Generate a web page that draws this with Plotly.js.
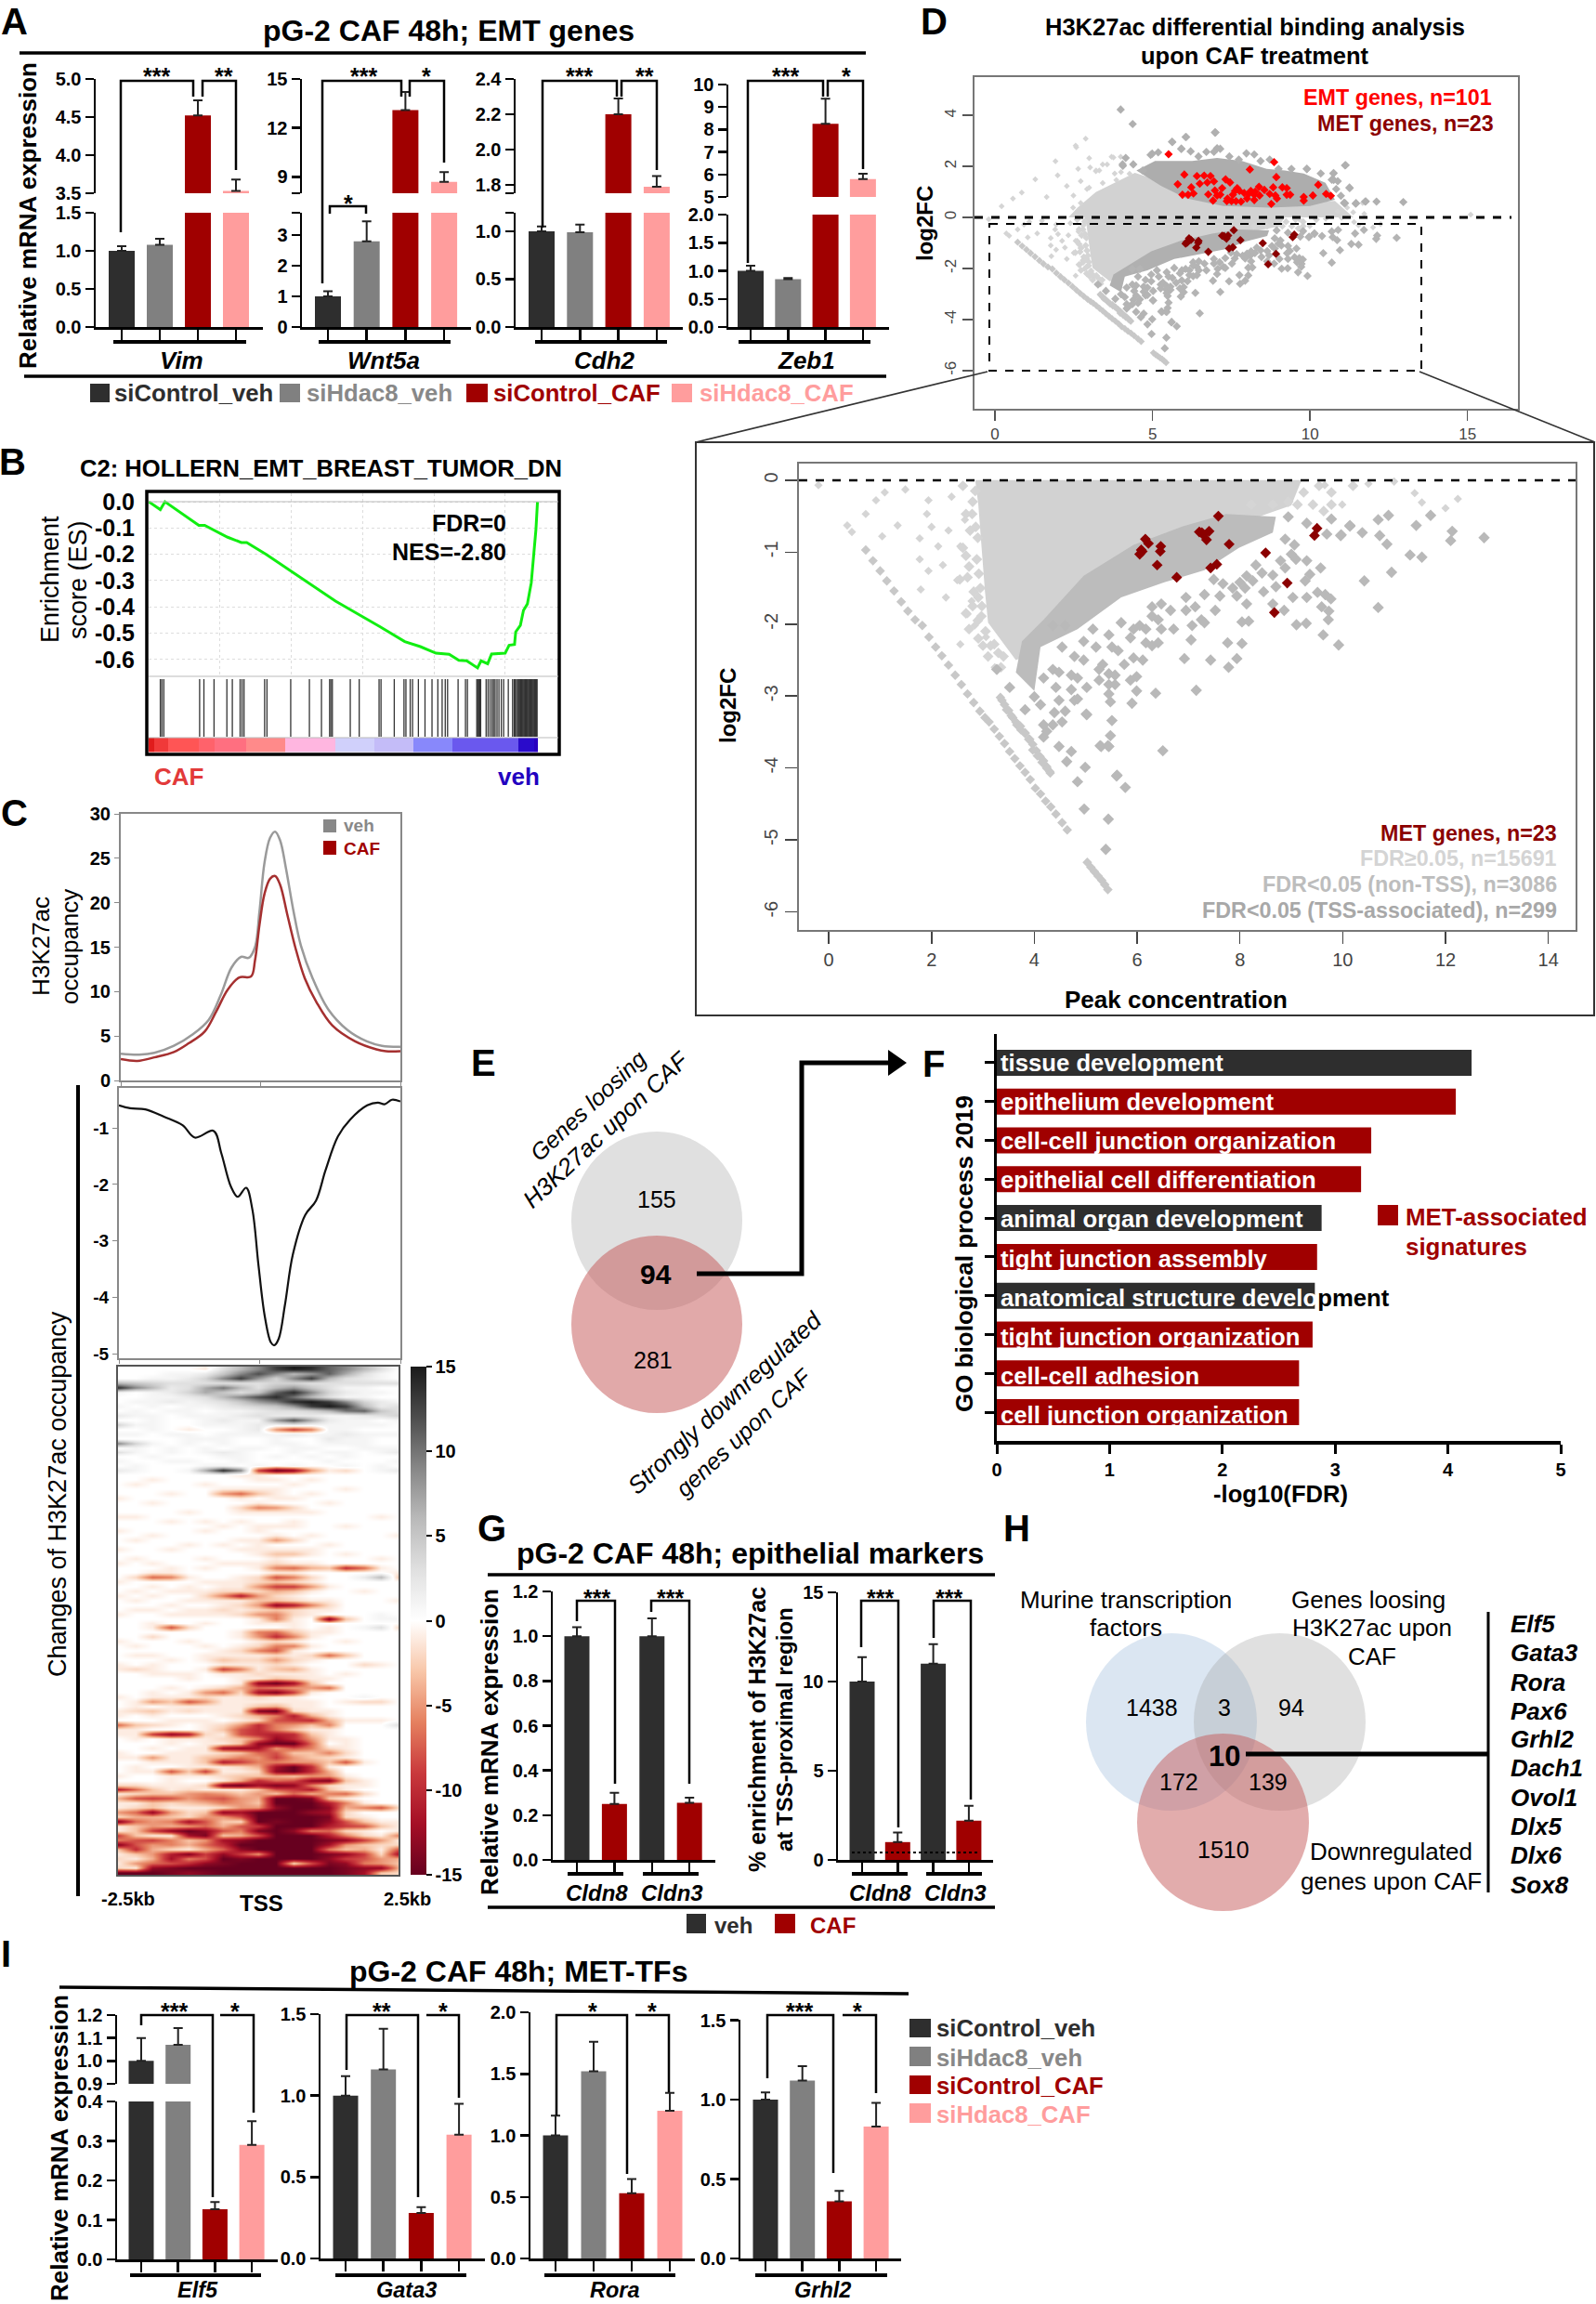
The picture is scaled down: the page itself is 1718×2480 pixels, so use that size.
<!DOCTYPE html>
<html><head><meta charset="utf-8">
<script src="https://cdn.plot.ly/plotly-3.0.1.min.js"></script>
<style>html,body{margin:0;padding:0;background:#fff}</style></head>
<body><div id="chart" style="width:1718px;height:2480px"></div>
<script>
// ---------- shared categories / colours ----------
const groupNames = ['siControl_veh','siHdac8_veh','siControl_CAF','siHdac8_CAF'];
const groupColors = ['#2e2e2e','#808080','#a00000','#ff9d9d'];
const groupPos = [1,2,3,4];
// ---------- panel A ----------
const vimVals=[1.0,1.08,4.52,3.53], vimErr=[0.06,0.08,0.2,0.15];
const wntVals=[1.0,2.8,13.1,8.7], wntErr=[0.17,0.65,1.1,0.6];
const cdhVals=[1.0,0.99,2.2,1.79], cdhErr=[0.05,0.08,0.09,0.06];
const zebVals=[1.0,0.85,8.25,5.8], zebErr=[0.09,0.02,1.12,0.23];
// ---------- panel B ----------
const esRank=[0,3,4.2,12.9,14.4,20.3,23.8,25.2,30.2,36.1,48,59.4,65.8,69.8,73.8,77.2,79.7,81.7,84.5,85.4,87.1,88.1,91.6,92.6,94,94.3,95.5,96.3,97.3,98.3,99.1,99.5,99.9];
const esScore=[0,-.03,0,-.09,-.09,-.135,-.155,-.155,-.2,-.26,-.378,-.475,-.532,-.551,-.576,-.58,-.603,-.605,-.632,-.605,-.616,-.579,-.576,-.546,-.543,-.495,-.47,-.413,-.389,-.308,-.186,-.105,0];
const hitRanks=[3,3.4,3.9,13.1,14.2,16.8,20.1,21.5,23.5,24,24.5,29.8,30.4,36.5,41.3,44.4,46.5,46.8,47.2,51.8,54.1,59.2,59.7,63.1,65.6,66.1,67.2,67.8,69.3,71,72.8,74.3,75.4,76.2,76.8,79.5,81.4,81.9,84.3,84.5,84.7,84.9,85.1,85.3,86.7,87.2,87.7,88.2,88.6,89,89.5,90,90.6,91.2,92.4,93.5,93.9,94.2,94.5,94.8,95,95.2,95.4,95.6,95.8,96,96.2,96.4,96.6,96.8,97,97.2,97.4,97.6,97.8,98,98.2,98.4,98.6,98.8,99,99.2,99.4,99.6,99.8];
const rankEdges=[0,1.5,5,13,17,25,35,48,58,68,78,95,99,100];
const rankLevels=[0,.06,.12,.18,.24,.3,.42,.55,.62,.72,.82,.98,.93];
// ---------- panel C ----------
const vehX=[-2.5,-2.17,-1.9,-1.55,-1.21,-.93,-.72,-.52,-.35,-.21,-.1,-.02,.07,.17,.26,.35,.45,.59,.72,.93,1.21,1.55,1.9,2.17,2.5];
const vehY=[3,2.9,3.1,3.9,5.2,6.8,9.5,12.7,13.9,13.8,15,19,24.5,27.3,28,27,24,19,15.2,11.5,8,5.7,4.4,3.9,3.8];
const cafX=[-2.5,-2.2,-1.9,-1.55,-1.28,-1,-.79,-.59,-.38,-.17,-.1,-.02,.07,.17,.26,.35,.48,.62,.79,1,1.28,1.69,2.07,2.24,2.5];
const cafY=[2.4,2.2,2.6,3.2,4.2,5.5,7.8,10.2,11.6,11.7,13.5,17.5,21,22.7,23,22,18.6,15,11.5,8.8,6.2,4.4,3.5,3.3,3.3];
const diffX=[-2.5,-2.3,-2.03,-1.7,-1.37,-1.15,-.82,-.68,-.51,-.39,-.24,-.13,-.02,.09,.2,.26,.34,.45,.59,.81,1,1.17,1.39,1.61,1.91,2.1,2.22,2.35,2.5];
const diffY=[-.6,-.65,-.67,-.8,-.95,-1.17,-1.05,-1.45,-2.04,-2.22,-2.06,-2.44,-3.44,-4.33,-4.8,-4.85,-4.73,-4.13,-3.24,-2.54,-2.29,-1.75,-1.15,-.85,-.6,-.55,-.58,-.5,-.53];
const heatCols=[-2.5,-2.19,-1.88,-1.56,-1.25,-.94,-.63,-.31,0,.31,.63,.94,1.25,1.56,1.88,2.19,2.5];
const heatRows=[
[0,0,0,0,0,-1,3,6,9,13,15,14,11,9,6,3,0],
[0,0,0,1,1,2,5,9,12,9,6,8,11,7,3,1,0],
[0,0,1,1,2,4,9,13,8,4,9,13,6,3,2,1,0],
[6,5,4,3,3,3,3,3,3,4,4,3,3,3,3,3,3],
[14,9,6,2,3,7,10,6,3,6,8,5,3,1,1,0,0],
[1,0,1,2,4,7,5,3,5,11,14,9,4,2,1,1,0],
[0,0,1,1,2,3,6,9,12,14,10,6,3,1,1,0,0],
[0,1,1,2,1,2,3,5,8,10,14,15,13,9,4,2,1],
[1,0,1,0,1,1,2,3,4,5,8,13,15,13,6,2,3],
[0,1,0,1,1,0,1,1,2,3,3,4,6,10,11,5,3],
[2,1,1,0,1,1,1,2,3,2,2,2,1,1,2,3,4],
[0,0,1,0,0,1,2,1,1,8,12,7,2,1,1,0,1],
[4,1,1,0,0,1,1,1,2,1,2,1,1,1,1,1,0],
[0,0,1,0,-1,0,0,1,2,-5,-9,-6,1,1,0,0,0],
[1,1,0,1,1,0,1,1,1,1,2,1,1,2,1,1,1],
[0,0,0,0,1,1,1,0,0,1,0,0,2,1,1,0,0],
[9,4,1,0,1,0,1,0,0,1,1,0,1,1,1,0,0],
[0,1,0,1,0,1,0,1,1,0,1,1,0,0,1,1,1],
[3,1,0,1,0,1,2,1,0,0,1,0,1,1,0,1,2],
[0,0,1,0,0,0,1,1,0,1,0,1,0,1,0,0,0],
[1,0,0,1,1,0,0,1,0,0,0,0,1,0,0,0,1],
[0,1,0,0,0,1,1,0,1,0,1,0,0,1,0,1,0],
[2,1,0,0,1,7,14,9,-9,-15,-13,-5,-1,-2,0,1,2],
[0,0,0,0,0,0,0,-1,-1,0,0,0,0,0,0,0,0],
[0,0,-1,0,0,0,0,0,-1,-1,0,-1,0,0,0,0,0],
[0,-1,0,0,0,-1,0,0,0,0,-1,0,0,0,0,0,0],
[0,0,0,0,0,0,-1,-1,-1,-1,0,0,0,-1,0,0,0],
[0,0,0,-1,0,0,-5,-7,-3,-1,0,-1,0,0,0,0,0],
[-1,0,0,0,0,0,0,-1,0,-1,-1,0,0,0,0,0,0],
[0,0,-1,0,0,0,0,0,-1,0,0,0,-1,0,0,0,0],
[0,0,0,0,0,0,0,-2,-6,-5,-2,0,0,0,0,0,0],
[0,0,0,0,-1,0,0,-1,-1,-1,-1,-1,0,0,0,0,0],
[-1,-1,0,0,0,0,0,0,0,0,0,0,0,0,0,-1,0],
[0,0,0,-1,0,-1,0,-1,0,0,-1,0,0,0,0,0,0],
[0,0,0,0,0,0,-1,0,-1,-1,-1,0,0,-1,0,0,0],
[-1,0,0,0,0,-1,0,0,-1,0,0,0,0,0,0,0,0],
[0,0,-1,0,0,0,0,0,0,-1,0,-1,0,0,0,0,-1],
[0,-1,0,0,0,0,0,-1,-1,-5,-2,0,0,0,0,0,0],
[0,0,0,0,-1,0,-1,0,-1,0,0,0,-1,0,0,0,0],
[-1,0,0,-1,0,0,0,-1,-1,-1,-1,-1,0,0,0,0,0],
[0,0,0,0,0,0,0,0,-1,-3,-3,-1,0,-1,0,0,0],
[0,-1,0,0,0,-1,0,0,0,-1,0,0,0,0,0,-1,0],
[-1,0,-1,0,0,0,-1,-1,-1,-2,-1,-1,0,0,0,0,0],
[0,0,0,-1,0,-1,0,0,-1,-6,-7,-4,-3,-10,-7,-1,0],
[0,0,-1,-1,0,0,0,0,0,-1,-1,0,0,0,0,0,-1],
[0,-2,-7,-6,-1,0,0,-1,-2,-8,-6,-2,0,0,2,6,-3],
[-1,0,0,0,0,-1,-1,-1,-2,-3,-2,-1,0,0,0,0,0],
[0,0,-1,0,-1,0,-1,-1,-5,-9,-9,-5,-1,0,0,0,0],
[0,-1,0,-1,-1,-1,-2,-2,-2,-4,-3,-1,0,0,-1,0,0],
[-1,0,-1,0,0,-2,-6,-11,-5,-2,-1,0,0,0,0,0,0],
[0,-1,0,0,-1,-1,-1,-1,-3,-3,-2,-1,-1,0,0,0,-1],
[0,0,0,-1,0,0,-1,-2,-5,-13,-11,-6,-2,0,0,0,0],
[0,-1,-1,0,-1,-1,-2,-1,-2,-3,-2,-1,-1,0,0,0,0],
[-1,0,0,-1,-1,-1,-1,-2,-5,-6,-2,-1,0,0,0,1,0],
[0,0,0,0,0,0,0,0,-1,-6,-1,0,-14,-3,0,1,1],
[0,0,-1,0,0,-1,0,0,-1,-1,-1,0,0,0,0,0,0],
[0,0,-1,-8,-2,0,0,0,0,0,-1,0,-1,0,1,3,-2],
[0,0,0,0,0,0,0,-1,-6,-7,-3,-1,-1,0,0,0,0],
[0,0,-2,0,0,0,0,-1,-5,-10,-6,-1,0,0,0,0,0],
[-1,0,0,0,-1,0,0,0,-1,-2,-1,0,0,-1,0,0,0],
[0,-1,0,0,0,-1,0,-1,-2,-6,-6,-1,0,0,0,0,0],
[0,0,0,0,0,0,-1,-2,-6,-8,-1,0,0,0,0,0,0],
[0,-1,-1,0,0,-1,-1,-1,-1,-2,-1,-2,-7,-3,0,0,0],
[0,0,0,-1,0,-1,-3,-2,-2,-5,-2,-1,0,0,0,0,0],
[-1,0,-1,0,0,0,-1,-1,-1,-2,-1,0,0,0,-2,-1,0],
[-1,-2,-1,0,0,-1,-9,-6,-1,-3,-4,-1,0,0,0,0,0],
[0,0,-1,-1,-1,0,-1,-1,-2,-1,-1,-1,0,-1,0,0,0],
[0,0,0,0,-1,0,0,-1,-1,-3,-2,-1,-1,0,0,0,0],
[0,0,0,0,0,0,0,-1,-13,-15,-12,-3,0,0,0,0,0],
[0,0,0,-1,0,-1,-2,-4,-7,-6,-5,-5,-7,0,0,0,0],
[0,0,-1,0,-1,-5,-7,-2,-12,-14,-9,-1,0,0,0,0,0],
[-1,0,-1,-1,-1,-2,-1,-1,-2,-1,-1,0,0,0,1,0,0],
[0,-1,-5,-3,-8,-5,-1,-1,-1,-1,-1,-1,0,-1,-2,-2,0],
[0,-1,0,-1,-1,-1,-1,-1,-3,-4,-1,-1,0,0,0,0,0],
[-1,-2,-3,-1,-2,-1,-1,-1,-14,-15,-2,-1,-1,0,0,0,0],
[-1,0,-1,0,0,0,-1,-2,-4,-6,-11,-4,-1,0,0,0,0],
[0,0,0,-1,-1,-1,0,-1,-2,-8,-9,-10,-4,-1,-1,-1,0],
[-7,-3,-2,-1,0,-1,-2,-5,-10,-6,-5,-3,-6,0,0,0,3],
[-1,-1,0,0,0,-1,-3,-8,-10,-6,-3,-1,-1,0,0,0,0],
[-1,-1,-9,-13,-11,-2,-1,-8,-10,-11,-10,-3,-1,0,0,0,0],
[0,-1,0,-1,-1,-1,-2,-3,-6,-13,-10,-5,-1,-1,0,0,0],
[0,0,0,-1,0,-1,-1,-3,-13,-15,-15,-7,0,-1,0,0,0],
[0,0,-1,0,-1,-1,-12,-13,-12,-5,-8,-6,-2,-1,0,0,0],
[-1,0,0,-1,-1,-1,-2,-3,-7,-8,-3,-3,-6,-2,0,0,0],
[-1,-1,-5,-1,-1,-3,-4,-6,-5,-9,-5,-3,-2,-1,0,0,0],
[0,0,-1,-1,-1,-3,-11,-9,-6,-6,-5,-5,-3,-8,-1,0,0],
[0,-1,0,0,-1,-1,-1,-2,-4,-12,-15,-10,-1,0,0,0,0],
[0,-1,-1,-8,-3,-9,-1,-1,-2,-13,-15,-10,-4,0,0,0,0],
[-1,0,0,-1,-1,-1,-2,-3,-3,-4,-3,-5,-5,-1,0,0,0],
[0,0,0,-1,0,0,-1,-4,-10,-7,-8,-13,-14,-3,-1,0,0],
[-2,-2,-1,-1,-1,-2,-14,-15,-12,-14,-13,-6,-2,-1,-1,0,0],
[-11,-7,-3,-1,-2,-1,-1,-1,-3,-8,-9,-11,-3,-1,0,0,0],
[-1,-2,-3,-3,-5,-6,-5,-3,-5,-3,-7,-4,-6,-7,-2,0,0],
[-4,-8,-9,-8,-5,-7,-8,-5,-4,-15,-15,-14,-3,-1,0,0,0],
[-1,-1,-3,-2,-3,-4,-6,-5,-3,-15,-15,-15,-11,-6,-1,0,0],
[-1,-2,-3,-1,-1,-1,-2,-5,-5,-13,-15,-15,-13,-4,-6,-8,-2],
[-5,-7,-13,-5,-2,-3,-13,-12,-15,-15,-15,-13,-12,-2,0,0,0],
[-2,-4,-4,-3,-2,-5,-5,-8,-15,-15,-15,-15,-14,-2,-1,0,0],
[-14,-7,-5,-6,-12,-8,-3,-2,-15,-14,-15,-15,-13,-8,-3,-1,-1],
[-1,-3,-5,-4,-5,-7,-4,-8,-9,-15,-15,-15,-11,-9,-8,-3,-1],
[-1,-3,-9,-13,-15,-13,-8,-6,-14,-15,-13,-6,-7,-2,-1,0,-1],
[-9,-3,-1,-1,-12,-14,-3,-4,-8,-15,-15,-15,-11,-6,-2,-1,-6],
[-6,-8,-9,-6,-3,-5,-12,-13,-15,-15,-15,-15,-14,-13,-9,-5,-1],
[-14,-8,-5,-6,-4,-7,-10,-15,-15,-15,-15,-15,-12,-5,-3,-2,-2],
[-3,-10,-4,-2,-1,-4,-7,-13,-15,-15,-15,-15,-6,-3,-4,-1,-8],
[-1,-3,-5,-11,-14,-9,-13,-9,-5,-15,-15,-15,-14,-13,-9,-2,-12],
[-2,-1,-4,-12,-6,-8,-15,-14,-15,-15,-15,-15,-13,-9,-8,-5,-4],
[-1,-5,-7,-8,-10,-13,-14,-15,-15,-15,-2,-8,-14,-13,-6,-5,-3],
[-2,-1,-13,-14,-15,-15,-15,-15,-15,-15,-15,-15,-15,-14,-13,-13,-4],
[-15,-15,-15,-14,-13,-14,-15,-15,-15,-15,-15,-15,-15,-14,-12,-3,-2]];
const heatScale=[[0,'#67001f'],[.1,'#a50f26'],[.2,'#c9393c'],[.3,'#e5805f'],[.4,'#f8c6a8'],[.5,'#ffffff'],[.6,'#e0e0e0'],[.7,'#bababa'],[.8,'#878787'],[.9,'#4d4d4d'],[1,'#1a1a1a']];
// ---------- panel D: envelopes of the dense clouds ----------
const lightUpX=[2.33,2.62,3.2,3.8,4.44,5.18,6.07,7.25,8.72,10,10.79,11.38], lightUpY=[0,.38,.99,1.36,1.75,1.45,.95,.65,.55,.6,.65,0];
const midUpX=[4.49,5.28,6.07,7.25,8.72,10,10.79,10.49,9.8,9.2,8.62,7.84,7.05,6.26,5.67,5.08], midUpY=[1.84,1.23,.75,.45,.38,.45,.69,1.36,1.72,1.84,1.9,2.21,2.33,2.21,2.21,2.21];
const lightLoX=[9.2,9,8,6.8,5.8,5,4.4,4,3.64,3.1,3.04,2.98,2.91,2.85], lightLoY=[0,-.35,-.6,-.85,-1.25,-1.7,-2.1,-2.4,-2.5,-1.98,-1.55,-.99,-.34,0];
const midLoX=[8.7,7.73,6.89,5.93,4.96,4.18,3.76,3.64,4,4.12,4.84,5.69,6.53,7.31,7.98,8.64], midLoY=[-.51,-.47,-.64,-.9,-1.33,-1.94,-2.24,-2.67,-2.93,-2.32,-2.07,-1.63,-1.42,-1.25,-.94,-.73];
const sparseLoX=[-.2,.36,.45,.72,.92,1.09,1.49,1.34,1.04,1.77,1.91,1.94,2.13,2,2.39,2.33,1.77,1.94,2.22,2.5,1.79,2.28,2.56,2.65,2.78,2.7,2.84,3.06,2.56,3.23,9.65,9.99,10.5,11,11.4,11.54,12.24,12];
const sparseLoY=[-.07,-.63,-.72,-.47,-.28,-.17,-.13,-.63,-.78,-.81,-.47,-.28,-.92,-.65,-.23,-.7,-1.1,-1.26,-1.18,-1.39,-1.52,-1.63,-.92,-.55,-1.68,-1.86,-2.02,-2.18,-2.28,-2.6,-.07,-.34,-.05,-.02,-.18,-.31,-.26,-.39];
const fringeLoX=[2.79,2.61,2.73,2.91,2.73,2.91,3.22,3.4,2.97,2.67,2.82,2.67,2.55,2.67,2.61,9.54,9.78,9.24,8.94,8.64,8.22,9.12,9.42,9.78,9.63,10.2,2.85,2.8,2.86,2.9,2.88,2.92,2.95,2.98,3.05,3.15,3.3,2.75,2.7,2.8,2.9,3,3.1,3.35];
const fringeLoY=[-.47,-.94,-1.2,-1.63,-2.07,-2.2,-2.28,-2.45,-1.89,-1.85,-1.55,-1.05,-1.38,-.47,-.08,-.08,-.17,-.17,-.3,-.34,-.34,-.34,-.34,-.34,-.43,-.08,-.15,-.3,-.65,-.8,-1.1,-1.3,-1.5,-1.75,-2.1,-2.3,-2.4,-.7,-1.35,-1.75,-1.95,-2.3,-2.45,-2.6];
const sigLoX=[12.13,12.1,12.75,11.71,11.43,10.89,10.69,10.38,10.72,10.86,11.31,11.54,10.95,10.42,10.69,10.14,9.97,5.01,5.48,5.28,5.43,5.61,5.77,4.84,4.97,5.44,5.39,9.78,9.3,8.94,9.06,8.88,9.69,9.96,10.14,8.79,9,9.09,9.3,9.36,9.57,9.27,8.88,8.64,8.43,8.31,8.25,8.13,8.46,8.7,8.1,7.94,8.13,8,7.86,7.61,7.67,7.49,8.64,8.86,9.03,9.3,9.51,9.66,9.77,9.59,9.73,9.72,9.29,9.1,9.62,9.92,8.04,8.17,7.76,8.04,7.94,7.78,7.43,6.92,7.15,6.36,7.07,7.05,7.25,7.31,7.52,7.13,6.95,6.65,6.47,6.29,7.31,6.95,6.41,6.71,6.47,6.05,6.17,5.87,5.51,5.63,6.17,6.41,6.29,6.11,5.93,5.75,5.33,5.26,5.45,5.57,5.99,5.87,5.26,5.45,5.57,5.02,5.99,5.45,5.48,5.9,4.78,4.48,4.6,4.39,5.02,5.51,4.54,4.36,4.18,4.24,4.18,4.48,4.72,5.3,5.45,6.5,4.63,4.99,5.6,4.84,4.72,4.96,4.78,4.54,4.36,4.48,4.18,4.42,4.72,4.84,4,4.12,3.82,3.52,3.27,5.2,5.45,5.69,5.93,5.14,4.96,4.6,4.36,6.29];
const sigLoY=[-.71,-.84,-.8,-.49,-.63,-.49,-.55,-.73,-.77,-.89,-1.04,-1.07,-1.28,-1.4,-1.77,-.63,-.76,-3.25,-3.55,-3.69,-3.69,-4.1,-4.27,-4.19,-4.57,-4.71,-5.13,-.54,-.6,-.51,-.9,-.82,-.75,-.77,-.64,-1.12,-1.03,-1.1,-1.12,-1.31,-1.22,-1.4,-1.22,-1.32,-1.29,-1.18,-1.4,-1.33,-1.55,-1.48,-1.5,-1.61,-1.72,-1.42,-1.5,-1.61,-1.44,-1.38,-1.72,-1.81,-1.63,-1.63,-1.56,-1.59,-1.65,-1.76,-1.82,-1.94,-1.99,-2.01,-2.15,-2.29,-1.97,-1.96,-2.26,-2.27,-2.48,-2.6,-2.5,-2.48,-2.92,-2.96,-2.02,-2.22,-1.94,-1.98,-1.81,-1.76,-1.81,-1.81,-1.72,-1.76,-1.59,-1.63,-1.94,-2.07,-2.07,-2.02,-2.07,-2.19,-2.32,-2.37,-2.26,-2.26,-2.3,-2.5,-2.47,-2.56,-2.56,-2.63,-2.69,-2.71,-2.73,-2.78,-2.78,-2.84,-2.84,-2.88,-2.93,-2.97,-3.08,-3.1,-3.06,-3.06,-3.21,-3.23,-3.26,-3.34,-3.36,-3.4,-3.4,-3.49,-3.57,-3.7,-3.77,-3.7,-3.7,-3.76,-3.91,-3.99,-4.11,-2.75,-2.71,-2.5,-2.45,-2.32,-2.63,-2.67,-2.75,-2.88,-2.91,-3.04,-3.01,-3.12,-3.19,-2.88,-2.63,-2.32,-2.15,-1.98,-2.07,-2.07,-2.24,-2.02,-2.02,-1.89];
const diagX=[.72,.86,1,1.13,1.27,1.41,1.54,1.68,1.82,1.95,2.08,2.2,2.33,2.46,2.58,2.7,2.82,2.94,3.04,3.12,3.22,3.32,3.42,3.52,3.62,3.72,3.82,3.92,4.02,4.12,4.22,4.32,4.42,4.54,4.64,3.34,3.42,3.5,3.58,3.66,3.74,3.82,3.91,3.97,4.04,4.11,4.18,4.24,4.3,3.37,3.46,3.55,3.64,3.73,3.82,3.89,3.97,4.06,4.15,4.24,4.31,5.03,5.1,5.17,5.24,5.31,5.37,5.43];
const diagY=[-.97,-1.12,-1.26,-1.4,-1.54,-1.69,-1.82,-1.94,-2.02,-2.18,-2.32,-2.44,-2.57,-2.71,-2.84,-2.97,-3.09,-3.21,-3.3,-3.36,-3.46,-3.56,-3.66,-3.77,-3.87,-3.97,-4.06,-4.16,-4.28,-4.36,-4.46,-4.54,-4.64,-4.76,-4.86,-3.02,-3.12,-3.2,-3.3,-3.4,-3.47,-3.52,-3.6,-3.67,-3.76,-3.84,-3.9,-3.98,-4.05,-3.06,-3.19,-3.27,-3.36,-3.42,-3.51,-3.6,-3.75,-3.83,-3.92,-4,-4.07,-5.31,-5.38,-5.44,-5.5,-5.56,-5.62,-5.69];
const sparseUpX=[.21,.57,.85,1.28,1.64,1.92,1.99,2.28,2.56,2.88,2.64,3.2,2.99,3.42,3.7,3.99,2.49,2.99,3.42,3.85,4.27,15.1,3.76,3.56,3.31,3.02,2.72,2.58,3.21,2.92,2.72,2.48,3.8,4,11.67,11.72,11.18,10.88,11.37];
const sparseUpY=[.44,.74,.98,1.49,.8,2.2,1.65,1.23,2.81,3.09,1.9,1.81,2.32,2.08,2.38,2.38,.86,1.17,1.35,1.47,1.71,.11,2.35,2.08,1.84,1.96,1.42,2.75,1.84,1.11,.57,.38,1.72,1.78,.57,.14,.38,.24,.2];
const sigUpX=[3.99,4.37,6.98,6.05,5.63,5.91,4.06,4.99,7.05,11.11,9.9,10.75,11.25,12.96,12.11,11.75,11.46,11.11,10.75,10.83,4.94,5.18,5.62,5.92,6.21,6.46,6.71,6.95,7.15,7.44,7.74,7.98,8.23,8.43,8.72,9,9.41,9.9,10.34,10.74,10.69,10.88,11.13,11.26,10.98,11.08,11.45,11.77,4.15,4.39,4.05,4.69,6.07,7];
const sigUpY=[4.23,3.66,3.33,3.15,2.95,2.69,2.02,2.5,2.71,2.04,1.9,1.74,1.17,.6,.62,.62,.56,.56,1.47,1.11,2.45,2.55,2.97,2.69,2.59,2.39,2.57,2.57,2.69,2.39,2.27,2.51,2.47,2.21,2.27,1.9,1.9,1.9,1.72,1.72,1.48,1.42,2.05,1.15,.85,.57,.54,.63,2.33,2.08,2.08,1.84,3.15,3.33];
const emtX=[5.51,8.86,8.09,6.01,6.41,6.64,6.84,8.93,7.32,7.46,5.8,10.26,6.5,6.74,6.95,6.23,7.21,7.69,8.38,8.83,9.12,9.26,6.98,7.62,8.12,8.55,8.26,7.15,5.95,6.13,6.3,6.77,7.55,7.91,8.05,8.23,8.72,8.9,9.26,9.37,9.8,10.09,10.51,10.66,7.38,8,8.95,9.8,6.92,7.36,7.51,7.65,7.81,8.23,8.77,7.76,7.05,8.4];
const emtY=[2.48,2.17,1.88,1.68,1.62,1.64,1.62,1.58,1.49,1.37,1.3,1.28,1.32,1.37,1.41,1.18,1.15,1.15,1.2,1.18,1.18,1.15,1.06,1.04,1.04,1.08,1.01,.89,.89,.89,.94,.9,.89,.96,.92,.89,.92,.86,.89,.89,.8,.86,.92,.85,.74,.74,.74,.66,.66,.64,.64,.64,.62,.68,.53,1.04,.86,.86];
const metX=[7.58,9.5,9.45,7.21,7.29,7.4,7.35,6.16,6.22,6.46,6.45,6.08,6.05,7.79,8.5,6.39,7.55,7.43,6.77,8.92,8.67,7.26,6.1];
const metY=[-.5,-.67,-.77,-.72,-.76,-.71,-.83,-.82,-.88,-.92,-.99,-.97,-1.03,-.89,-1.01,-1.18,-1.17,-1.22,-1.35,-1.43,-1.84,-.73,-.99];
// ---------- panel F ----------
const goTerms=['tissue development','epithelium development','cell-cell junction organization','epithelial cell differentiation','animal organ development','tight junction assembly','anatomical structure development','tight junction organization','cell-cell adhesion','cell junction organization'];
const goVals=[4.21,4.07,3.32,3.23,2.88,2.84,2.82,2.8,2.68,2.68];
const goColors=['#2e2e2e','#a00000','#a00000','#a00000','#2e2e2e','#a00000','#2e2e2e','#a00000','#a00000','#a00000'];
// ---------- panel G ----------
const gColors=['#2e2e2e','#a00000','#2e2e2e','#a00000'];
const mrnaVals=[1,.25,1,.255], mrnaErr=[.04,.05,.08,.023];
const chipVals=[10,1,11,2.2], chipErr=[1.37,.53,1.09,.84];
// ---------- panel H ----------
const tfGenes=['Elf5','Gata3','Rora','Pax6','Grhl2','Dach1','Ovol1','Dlx5','Dlx6','Sox8'];
// ---------- panel I ----------
const elfVals=[1,1.07,.127,.29], elfErr=[.1,.073,.018,.06];
const gatVals=[1,1.16,.28,.76], gatErr=[.12,.25,.035,.19];
const rorVals=[1,1.52,.53,1.2], rorErr=[.16,.24,.115,.145];
const grhVals=[1,1.12,.36,.83], grhErr=[.045,.09,.065,.15];

// ---------- scaffolding ----------
const W=1718,H=2480,FONT='Liberation Sans';
const layout={width:W,height:H,margin:{l:0,r:0,t:0,b:0},paper_bgcolor:'#fff',plot_bgcolor:'rgba(0,0,0,0)',showlegend:false,shapes:[],annotations:[],font:{family:FONT,color:'#000'}};
const data=[];let nAx=0;
const X=p=>p/W,Y=p=>1-p/H;
function ax(l,r,t,b,xo,yo){nAx++;const s=nAx===1?'':nAx;
 layout['xaxis'+s]=Object.assign({domain:[X(l),X(r)],anchor:'y'+s,showgrid:false,zeroline:false,fixedrange:true,showticklabels:false,ticks:''},xo);
 layout['yaxis'+s]=Object.assign({domain:[Y(b),Y(t)],anchor:'x'+s,showgrid:false,zeroline:false,fixedrange:true,showticklabels:false,ticks:''},yo);
 return {xaxis:'x'+s,yaxis:'y'+s};}
function txt(t,x,y,o={}){layout.annotations.push({text:t,x:X(x),y:Y(y),xref:'paper',yref:'paper',showarrow:false,xanchor:o.a||'center',yanchor:'middle',textangle:o.rot||0,borderpad:0,
 font:{family:o.fam||FONT,size:o.s||22,color:o.c||'#000',weight:o.b?'bold':'normal',style:o.i?'italic':'normal'}});}
function poly(pts,w,c,o={}){const d=pts.map((p,i)=>(i?'L':'M')+X(p[0])+','+Y(p[1])).join(' ')+(o.close?' Z':'');
 layout.shapes.push({type:'path',path:d,xref:'paper',yref:'paper',line:{color:c,width:w,dash:o.dash||'solid'},fillcolor:o.fill||'rgba(0,0,0,0)'});}
function line(x1,y1,x2,y2,w,c,dash){poly([[x1,y1],[x2,y2]],w,c||'#000',{dash});}
function rect(x1,y1,x2,y2,c,lc,lw){layout.shapes.push({type:'rect',xref:'paper',yref:'paper',x0:X(x1),x1:X(x2),y0:Y(y1),y1:Y(y2),fillcolor:c,line:{color:lc||c,width:lw===undefined?0:lw}});}
function ell(x1,y1,x2,y2,c){layout.shapes.push({type:'circle',xref:'paper',yref:'paper',x0:X(x1),x1:X(x2),y0:Y(y1),y1:Y(y2),fillcolor:c,line:{width:0}});}
const tf=(s=19)=>({family:FONT,size:s,color:'#000',weight:'bold'});

function barPanel(c){
 const rng=[1+(c.yx-c.c1)/c.step,1+(c.right-c.c1)/c.step],bw=(c.bw||28)/c.step,pos=c.pos||groupPos;
 c.segs.forEach((g,i)=>{
  const a=ax(c.yx,c.right,g.t,g.b,
   Object.assign({range:rng},i===0?{showline:true,linewidth:3,linecolor:'#000',ticks:'outside',ticklen:11,tickwidth:2.5,tickcolor:'#000',tickvals:pos}:{}),
   {range:g.range,showline:true,linewidth:2.5,linecolor:'#000',ticks:'outside',ticklen:9,tickwidth:2.5,tickcolor:'#000',tickvals:g.tv,ticktext:g.tt,showticklabels:true,tickfont:tf(c.fs||20)});
  data.push(Object.assign({type:'bar',x:pos,y:c.vals,width:bw,marker:{color:c.colors||groupColors,line:{width:0}},
   error_y:{type:'data',symmetric:false,array:c.errs,arrayminus:[0,0,0,0],color:'#222',thickness:2,width:5}},a));
 });}
function brk(x1,x2,y,yl,yr){poly([[x1,yl],[x1,y],[x2,y],[x2,yr]],2.5,'#000');}
function stars(s,x,y){txt(s,x,y+7,{s:25,b:true});}

// ---------- panel letters ----------
[['A',15,23],['B',14,497],['C',15,875],['D',1006,23],['E',520,1144],['F',1005,1145],['G',529,1645],['H',1094,1645],['I',6,2103]].forEach(l=>txt(l[0],l[1],l[2],{s:40,b:true}));

// ========== A ==========
txt('pG-2 CAF 48h; EMT genes',483,33,{s:32,b:true});
line(21,57,932,57,3.5);line(26,405,954,405,3.5);
txt('Relative mRNA expression',30,232,{s:26,b:true,rot:-90});
barPanel({yx:103,right:283,c1:131,step:41,vals:vimVals,errs:vimErr,segs:[
 {t:229,b:352,range:[0,1.5],tv:[0,.5,1,1.5],tt:['0.0','0.5','1.0','1.5']},
 {t:85,b:208,range:[3.5,5],tv:[3.5,4,4.5,5],tt:['3.5','4.0','4.5','5.0']}]});
barPanel({yx:325,right:507,c1:353,step:41.7,vals:wntVals,errs:wntErr,segs:[
 {t:229,b:352,range:[0,3.73],tv:[0,1,2,3,3.73],tt:['0','1','2','3','']},
 {t:85,b:208,range:[8,15],tv:[8,9,12,15],tt:['','9','12','15']}]});
barPanel({yx:555,right:735,c1:583,step:41.3,vals:cdhVals,errs:cdhErr,segs:[
 {t:229,b:352,range:[0,1.194],tv:[0,.5,1,1.194],tt:['0.0','0.5','1.0','']},
 {t:85,b:208,range:[1.753,2.4],tv:[1.753,1.8,2,2.2,2.4],tt:['','1.8','2.0','2.2','2.4']}]});
barPanel({yx:784,right:957,c1:808,step:40.3,vals:zebVals,errs:zebErr,segs:[
 {t:231,b:352,range:[0,2],tv:[0,.5,1,1.5,2],tt:['0.0','0.5','1.0','1.5','2.0']},
 {t:91,b:212,range:[5,10],tv:[5,6,7,8,9,10],tt:['5','6','7','8','9','10']}]});
[[122,265,'Vim',195],[343,485,'Wnt5a',413],[576,718,'Cdh2',651],[795,937,'Zeb1',868]].forEach(g=>{line(g[0],368,g[1],368,4);txt(g[2],g[3],388,{s:26,b:true,i:true});});
brk(130,208,87,250,104);brk(218,254,87,104,183);stars('***',168,75);stars('**',241,75);
brk(347,432,87,305,104);brk(441,478,87,104,175);stars('***',391,75);stars('*',459,75);
brk(355,394,222,230,230);stars('*',375,212);
brk(584,664,87,245,104);brk(669,707,87,104,183);stars('***',623,75);stars('**',694,75);
brk(805,886,87,283,104);brk(891,929,87,104,182);stars('***',845,75);stars('*',911,75);
[[97,118,122],[301,323,329],[502,525,530],[723,745,752]].forEach((l,i)=>{rect(l[0],413,l[1],433,groupColors[i]);txt(groupNames[i],l[2],423,{s:25.7,b:true,a:'left',c:i===0?'#2e2e2e':(i===1?'#888':groupColors[i])});});

// ========== B ==========
txt('C2: HOLLERN_EMT_BREAST_TUMOR_DN',345,504,{s:25.6,b:true});
const bx=[0,105.25];
let a=ax(160,601,531,728,{range:bx,tickvals:[18.3,36.6,54.9,73.3,91.6],showgrid:true,gridcolor:'#ddd',griddash:'dot',gridwidth:1},
 {range:[-.664,.032],tickvals:[0,-.1,-.2,-.3,-.4,-.5,-.6],ticktext:['0.0','-0.1','-0.2','-0.3','-0.4','-0.5','-0.6'],showticklabels:true,showgrid:true,gridcolor:'#ddd',griddash:'dot',gridwidth:1,tickfont:tf(25),ticks:'outside',ticklen:9,tickcolor:'#fff',tickwidth:1});
data.push(Object.assign({type:'scatter',mode:'lines',x:esRank,y:esScore,line:{color:'#11ee11',width:3}},a));
a=ax(160,601,731,793,{range:bx},{range:[0,1]});
const hx=[],hy=[];hitRanks.forEach(r=>{hx.push(r,r,null);hy.push(0,1,null);});
data.push(Object.assign({type:'scatter',mode:'lines',x:hx,y:hy,line:{color:'#333',width:1.3}},a));
a=ax(160,601,794,809.5,{range:bx},{range:[0,1]});
data.push(Object.assign({type:'heatmap',x:rankEdges,y:[0,1],z:[rankLevels],zmin:0,zmax:1,showscale:false,
 colorscale:[[0,'#e01c1c'],[.12,'#ff5555'],[.24,'#ff6f80'],[.3,'#ff8a8a'],[.42,'#ffb6e0'],[.55,'#d0d0fb'],[.62,'#c4bcf8'],[.72,'#8888fb'],[.82,'#6a58ee'],[.93,'#2a00c0'],[1,'#2a10d0']]},a));
rect(158,529,602,812,'rgba(0,0,0,0)','#000',3.5);
line(160,540,601,540,1,'#bbb');line(160,728,601,728,1,'#bbb');line(160,794,601,794,1,'#bbb');
txt('Enrichment',54,624,{s:27,rot:-90});txt('score (ES)',84,624,{s:27,rot:-90});
txt('FDR=0',546,563,{s:25,b:true,a:'right'});txt('NES=-2.80',546,594,{s:25,b:true,a:'right'});
txt('CAF',192,836,{s:26,b:true,c:'#e23a3a'});txt('veh',558,836,{s:26,b:true,c:'#2200c0'});

// ========== C ==========
const frame={showline:true,mirror:true,linecolor:'#888',linewidth:2};
a=ax(130,431,876,1163,Object.assign({range:[-2.5,2.5],tickvals:[-2.5,0,2.5],ticks:'outside',ticklen:5,tickcolor:'#888'},frame),
 Object.assign({range:[0,30],tickvals:[0,5,10,15,20,25,30],showticklabels:true,tickfont:tf(20),ticks:'outside',ticklen:5,tickcolor:'#888'},frame));
data.push(Object.assign({type:'scatter',mode:'lines',x:vehX,y:vehY,line:{color:'#9a9a9a',width:2.5,shape:'spline'}},a));
data.push(Object.assign({type:'scatter',mode:'lines',x:cafX,y:cafY,line:{color:'#a53030',width:2.5,shape:'spline'}},a));
rect(348,882,362,896,'#888');txt('veh',369,889,{s:19,b:true,a:'left',c:'#888'});
rect(348,905,362,920,'#a00000');txt('CAF',369,913,{s:19,b:true,a:'left',c:'#a00000'});
txt('H3K27ac',44,1019,{s:26,rot:-90});txt('occupancy',75,1019,{s:26,rot:-90});
a=ax(128,431,1171,1462,Object.assign({range:[-2.5,2.5],tickvals:[-2.5,0,2.5],ticks:'outside',ticklen:4,tickcolor:'#888'},frame),
 Object.assign({range:[-5.08,-.29],tickvals:[-1,-2,-3,-4,-5],ticktext:['-1','-2','-3','-4','-5'],showticklabels:true,tickfont:tf(19),ticks:'outside',ticklen:5,tickcolor:'#888'},frame));
data.push(Object.assign({type:'scatter',mode:'lines',x:diffX,y:diffY,line:{color:'#111',width:2.2,shape:'spline'}},a));
a=ax(127,429,1471,2018,{range:[-2.5,2.5],showline:true,mirror:true,linecolor:'#555',linewidth:2},{range:[heatRows.length-.5,-.5],showline:true,mirror:true,linecolor:'#555',linewidth:2});
data.push(Object.assign({type:'heatmap',x:heatCols,z:heatRows,zmin:-15,zmax:15,zsmooth:'best',colorscale:heatScale,
 colorbar:{x:X(442),xanchor:'left',y:Y(2018),yanchor:'bottom',len:(2018-1471)/H,lenmode:'fraction',thickness:17,thicknessmode:'pixels',xpad:0,ypad:0,outlinewidth:0,ticks:'outside',ticklen:6,tickwidth:2,tickcolor:'#000',tickvals:[15,10,5,0,-5,-10,-15],ticktext:['15','10','5','0','-5','-10','-15'],tickfont:tf(20)}},a));
txt('-2.5kb',138,2044,{s:20,b:true});txt('TSS',281,2048,{s:24,b:true});txt('2.5kb',438,2044,{s:20,b:true});
line(84,1168,84,2041,4);
txt('Changes of H3K27ac occupancy',62,1608,{s:27,rot:-90});

// ========== D ==========
txt('H3K27ac differential binding analysis',1351,29,{s:25.5,b:true});txt('upon CAF treatment',1351,60,{s:25.5,b:true});
const fr2={showline:true,mirror:true,linecolor:'#777',linewidth:2};
const lf=s=>({family:FONT,size:s,color:'#444'});
function cloud(a,x,y,c){data.push(Object.assign({type:'scatter',mode:'lines',x,y,fill:'toself',fillcolor:c,line:{width:0,color:c}},a));}
function dots(a,x,y,c,s){data.push(Object.assign({type:'scatter',mode:'markers',x,y,marker:{symbol:'diamond',color:c,size:s,line:{width:0}}},a));}
const LIGHT='#d2d2d2',SPARSE='#d5d5d5',DIAG='#c8c8c8';
a=ax(1049,1634,83,440,Object.assign({range:[-.65,16.6],tickvals:[0,5,10,15],showticklabels:true,tickfont:lf(17),ticks:'outside',ticklen:11,tickcolor:'#555',tickwidth:1.5},fr2),
 Object.assign({range:[-7.5,5.5],tickvals:[-6,-4,-2,0,2,4],ticktext:['-6','-4','-2','0','2','4'],showticklabels:true,tickangle:-90,tickfont:lf(17),ticks:'outside',ticklen:11,tickcolor:'#555',tickwidth:1.5},fr2));
cloud(a,lightUpX,lightUpY,LIGHT);cloud(a,lightLoX,lightLoY,LIGHT);cloud(a,midUpX,midUpY,'#adadad');cloud(a,midLoX,midLoY,'#b0b0b0');
dots(a,sparseUpX,sparseUpY,SPARSE,5);dots(a,sparseLoX,sparseLoY,SPARSE,5);dots(a,fringeLoX,fringeLoY,SPARSE,6);dots(a,diagX,diagY,DIAG,6);
dots(a,sigUpX,sigUpY,'#b0b0b0',7);dots(a,sigLoX,sigLoY,'#b4b4b4',7);dots(a,emtX,emtY,'#ff0000',7);dots(a,metX,metY,'#8b0000',7);
line(1049,234,1627,234,3,'#000','dash');
poly([[1065,241],[1530,241],[1530,399],[1065,399]],2,'#000',{dash:'dash',close:true});
line(1063,400,749,476,1.5,'#333');line(1528,400,1717,476,1.5,'#333');
rect(749,476,1716,1093,'rgba(0,0,0,0)','#333',2);
txt('log2FC',996,241,{s:24,b:true,rot:-90});
txt('EMT genes, n=101',1607,105,{s:23.3,b:true,a:'right',c:'#ff0000'});txt('MET genes, n=23',1609,133,{s:23.3,b:true,a:'right',c:'#8b0000'});
a=ax(860,1696,499,1001,Object.assign({range:[-.58,14.53],tickvals:[0,2,4,6,8,10,12,14],showticklabels:true,tickfont:lf(20),ticks:'outside',ticklen:13,tickcolor:'#444',tickwidth:1.5},fr2),
 Object.assign({range:[-6.25,.23],tickvals:[0,-1,-2,-3,-4,-5,-6],ticktext:['0','-1','-2','-3','-4','-5','-6'],showticklabels:true,tickangle:-90,tickfont:lf(20),ticks:'outside',ticklen:13,tickcolor:'#444',tickwidth:1.5},fr2));
cloud(a,lightLoX,lightLoY,LIGHT);cloud(a,midLoX,midLoY,'#bcbcbc');
dots(a,sparseLoX,sparseLoY,SPARSE,7);dots(a,fringeLoX,fringeLoY,SPARSE,9);dots(a,diagX,diagY,DIAG,8);dots(a,sigLoX,sigLoY,'#b9b9b9',9.5);dots(a,metX,metY,'#8b0000',9);
line(860,517,1696,517,2.5,'#000','dash');
txt('log2FC',784,760,{s:24,b:true,rot:-90});txt('Peak concentration',1266,1076,{s:26,b:true});
txt('MET genes, n=23',1677,897,{s:23.3,b:true,a:'right',c:'#8b0000'});
txt('FDR≥0.05, n=15691',1677,924,{s:23.3,b:true,a:'right',c:'#d4d4d4'});
txt('FDR&lt;0.05 (non-TSS), n=3086',1677,952,{s:23.3,b:true,a:'right',c:'#bdbdbd'});
txt('FDR&lt;0.05 (TSS-associated), n=299',1677,980,{s:23.3,b:true,a:'right',c:'#a8a8a8'});

// ========== E ==========
ell(615,1218,799,1410,'#e0e0e0');ell(615,1330,799,1521,'rgba(198,90,90,.52)');
txt('155',707,1291,{s:25});txt('94',706,1371,{s:30,b:true});txt('281',703,1464,{s:25});
txt('Genes loosing',633,1190,{s:25,i:true,rot:-43});txt('H3K27ac upon CAF',652,1216,{s:26,i:true,rot:-43});
txt('Strongly downregulated',780,1510,{s:26,i:true,rot:-43});txt('genes upon CAF',800,1542,{s:25,i:true,rot:-43});
poly([[750,1371],[863,1371],[863,1144],[958,1144]],5,'#000');
poly([[956,1130],[976,1144],[956,1158]],0,'#000',{close:true,fill:'#000'});

// ========== F ==========
a=ax(1073,1680,1113,1551,{range:[0,5],showline:true,linewidth:4,linecolor:'#000',tickvals:[0,1,2,3,4,5],showticklabels:true,tickfont:tf(20),ticks:'outside',ticklen:10,tickwidth:3,tickcolor:'#000'},
 {range:[9.74,-.74],showline:true,linewidth:3,linecolor:'#000',tickmode:'array',tickvals:goTerms.map((_,i)=>i),ticks:'outside',ticklen:10,tickwidth:3,tickcolor:'#000'});
data.push(Object.assign({type:'bar',orientation:'h',y:goTerms.map((_,i)=>i),x:goVals,width:.67,marker:{color:goColors,line:{width:0}}},a));
goTerms.forEach((t,i)=>{const lab=i===6?'anatomical structure develo<span style="color:#000">pment</span>':t;txt(lab,1076,1144+i*42.1,{s:25.7,b:true,a:'left',c:'#fff'});});
txt('GO biological process 2019',1038,1350,{s:26,b:true,rot:-90});
txt('-log10(FDR)',1378,1608,{s:25.6,b:true});
rect(1483,1297,1505,1319,'#a00000');
txt('MET-associated',1512,1310,{s:25.9,b:true,a:'left',c:'#a00000'});txt('signatures',1512,1342,{s:25.9,b:true,a:'left',c:'#a00000'});

// ========== G ==========
txt('pG-2 CAF 48h; epithelial markers',807,1672,{s:32,b:true});
line(525,1695,1071,1695,3.5);line(525,2053,1071,2053,3.5);
barPanel({yx:595,right:770,c1:621,step:40.4,bw:27,vals:mrnaVals,errs:mrnaErr,colors:gColors,segs:[{t:1713,b:2002,range:[0,1.2],tv:[0,.2,.4,.6,.8,1,1.2],tt:['0.0','0.2','0.4','0.6','0.8','1.0','1.2']}]});
barPanel({yx:902,right:1069,c1:928,step:38.3,bw:27,vals:chipVals,errs:chipErr,colors:gColors,segs:[{t:1714,b:2002,range:[0,15],tv:[0,5,10,15],tt:['0','5','10','15']}]});
line(917,1994,1052,1994,2,'#000','dot');
txt('Relative mRNA expression',527,1875,{s:26,b:true,rot:-90});
txt('% enrichment of H3K27ac',815,1862,{s:25,b:true,rot:-90});txt('at TSS-proximal region',844,1862,{s:24,b:true,rot:-90});
[[611,671,'Cldn8',642],[692,752,'Cldn3',723],[917,977,'Cldn8',948],[997,1057,'Cldn3',1028]].forEach(g=>{line(g[0],2017,g[1],2017,4);txt(g[2],g[3],2037,{s:24,b:true,i:true});});
brk(621,662,1723,1745,1920);stars('***',642,1713);brk(701,742,1723,1735,1920);stars('***',721,1713);
brk(927,967,1723,1773,1967);stars('***',948,1713);brk(1005,1045,1723,1763,1937);stars('***',1021,1713);
rect(739,2060,760,2081,'#2e2e2e');txt('veh',768,2072,{s:24,b:true,a:'left',c:'#2e2e2e'});
rect(834,2060,856,2081,'#a00000');txt('CAF',871,2072,{s:24,b:true,a:'left',c:'#a00000'});

// ========== H ==========
ell(1169,1758,1353,1949,'rgba(170,195,225,.42)');ell(1285,1758,1470,1949,'rgba(160,160,160,.32)');ell(1224,1866,1409,2057,'rgba(198,90,90,.5)');
[['1438',1240,1838],['3',1318,1838],['94',1390,1838],['172',1269,1918],['139',1365,1918],['1510',1317,1991]].forEach(t=>txt(t[0],t[1],t[2],{s:25}));
txt('10',1318,1890,{s:31,b:true});
[['Murine transcription',1212,1722],['factors',1212,1752],['Genes loosing',1473,1722],['H3K27ac upon',1477,1752],['CAF',1477,1783],['Downregulated',1497,1993],['genes upon CAF',1497,2025]].forEach(t=>txt(t[0],t[1],t[2],{s:26}));
line(1341,1888,1602,1888,5);line(1602,1735,1602,2037,3);
tfGenes.forEach((g,i)=>txt(g,1625,[1748,1779,1811,1842,1872,1903,1935,1966,1997,2029][i],{s:26,b:true,i:true,a:'left'}));

// ========== I ==========
txt('pG-2 CAF 48h; MET-TFs',558,2122,{s:32,b:true});line(64,2139,978,2146,3.5);
txt('Relative mRNA expression',64,2312,{s:26,b:true,rot:-90});
barPanel({yx:126,right:299,c1:152,step:39.7,bw:27,vals:elfVals,errs:elfErr,segs:[
 {t:2262,b:2432,range:[0,.4],tv:[0,.1,.2,.3,.4],tt:['0.0','0.1','0.2','0.3','0.4']},
 {t:2169,b:2243,range:[.9,1.2],tv:[.9,1,1.1,1.2],tt:['0.9','1.0','1.1','1.2']}]});
barPanel({yx:345,right:522,c1:372,step:40.7,bw:27,vals:gatVals,errs:gatErr,segs:[{t:2168,b:2431,range:[0,1.5],tv:[0,.5,1,1.5],tt:['0.0','0.5','1.0','1.5']}]});
barPanel({yx:571,right:748,c1:598,step:41,bw:27,vals:rorVals,errs:rorErr,segs:[{t:2166,b:2431,range:[0,2],tv:[0,.5,1,1.5,2],tt:['0.0','0.5','1.0','1.5','2.0']}]});
barPanel({yx:797,right:970,c1:824,step:39.7,bw:27,vals:grhVals,errs:grhErr,segs:[{t:2174,b:2431,range:[0,1.503],tv:[0,.5,1,1.5],tt:['0.0','0.5','1.0','1.5']}]});
[[140,281,'Elf5',213],[361,502,'Gata3',437],[586,727,'Rora',662],[813,955,'Grhl2',885]].forEach(g=>{line(g[0],2449,g[1],2449,4);txt(g[2],g[3],2465,{s:23.5,b:true,i:true});});
brk(152,229,2169,2180,2365);brk(237,273,2169,2169,2274);stars('***',187,2158);stars('*',253,2158);
brk(373,450,2169,2228,2365);brk(459,494,2169,2169,2258);stars('**',411,2158);stars('*',477,2158);
brk(599,675,2169,2277,2340);brk(684,720,2169,2169,2252);stars('*',638,2158);stars('*',702,2158);
brk(826,897,2169,2237,2339);brk(907,943,2169,2169,2253);stars('***',860,2158);stars('*',923,2158);
[[2173,2193,2183],[2203,2224,2215],[2234,2254,2245],[2264,2285,2276]].forEach((l,i)=>{rect(979,l[0],1002,l[1],groupColors[i]);txt(groupNames[i],1007,l[2],{s:25.7,b:true,a:'left',c:i===0?'#2e2e2e':(i===1?'#888':groupColors[i])});});

Plotly.newPlot('chart',data,layout,{displayModeBar:false,staticPlot:true});
</script></body></html>
